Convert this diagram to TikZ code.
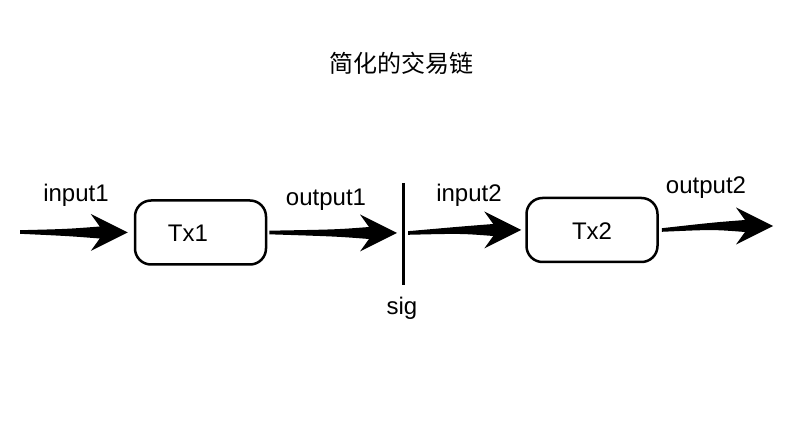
\documentclass[tikz,border=0pt]{standalone}
\usepackage{fontspec}
\setmainfont{Liberation Sans}
\newfontfamily\cjk{Noto Sans CJK SC}
\usetikzlibrary{calc}
\tikzset{
  from gap/.store in=\fromgap, to gap/.store in=\togap, from gap=0pt, to gap=0pt,
  fatarrow/.style={fill=black, to path={let \p1=(\tikztostart), \p2=(\tikztotarget) in
    ({\x1+\fromgap},{\y1+1.8pt}) .. controls ({\x2-\togap-60pt},{\y2+3.5pt}) .. ({\x2-\togap-28pt},{\y2+6pt})
    -- ({\x2-\togap-37pt},{\y2+18.5pt}) -- ({\x2-\togap},{\y2}) -- ({\x2-\togap-37pt},{\y2-18.5pt})
    -- ({\x2-\togap-28pt},{\y2-6pt}) .. controls ({\x2-\togap-60pt},{\y2-3.5pt}) .. ({\x1+\fromgap},{\y1-1.8pt}) -- cycle}},
  txbox/.style={draw, line width=2.5pt, rounded corners=16pt, minimum width=131pt, minimum height=64pt, inner sep=0pt},
  lbl/.style={anchor=base, font=\fontsize{24}{28}\selectfont}
}
\begin{document}
\begin{tikzpicture}[x=1pt, y=-1pt, font=\fontsize{24}{28}\selectfont]
  \useasboundingbox[fill=white] (0,0) rectangle (801,435);
  \node[font=\cjk\fontsize{24}{28}\selectfont] (title) at (401,63) {简化的交易链};
  % transactions
  \node[txbox] (tx1) at (200.5,232.5) {};
  \node[lbl] (tx1txt) at (188,242) {Tx1};
  \node[txbox] (tx2) at (592,230) {};
  \node[lbl] (tx2txt) at (592,240) {Tx2};
  % signature line
  \coordinate (sigtop) at (403,183);
  \coordinate (sigbot) at (403,285);
  \coordinate (sigmid) at (403,233);
  \draw[line width=3pt] (sigtop) -- (sigbot);
  \node[lbl] (sig) at (402,315) {sig};
  % arrows
  \coordinate (in1) at (20,232);
  \coordinate (out2) at (773,226);
  \fill[fatarrow, to gap=6pt] (in1) to (tx1.west);
  \fill[fatarrow, from gap=2pt, to gap=6pt] (tx1.east) to (sigmid);
  \fill[fatarrow, from gap=5pt, to gap=4pt] (sigmid) to (tx2.west);
  \fill[fatarrow, from gap=3pt] (tx2.east) to (out2);
  \node[lbl] (input1) at (76,202) {input1};
  \node[lbl] (output1) at (326,206) {output1};
  \node[lbl] (input2) at (469,202) {input2};
  \node[lbl] (output2) at (706,194) {output2};
\end{tikzpicture}
\end{document}
